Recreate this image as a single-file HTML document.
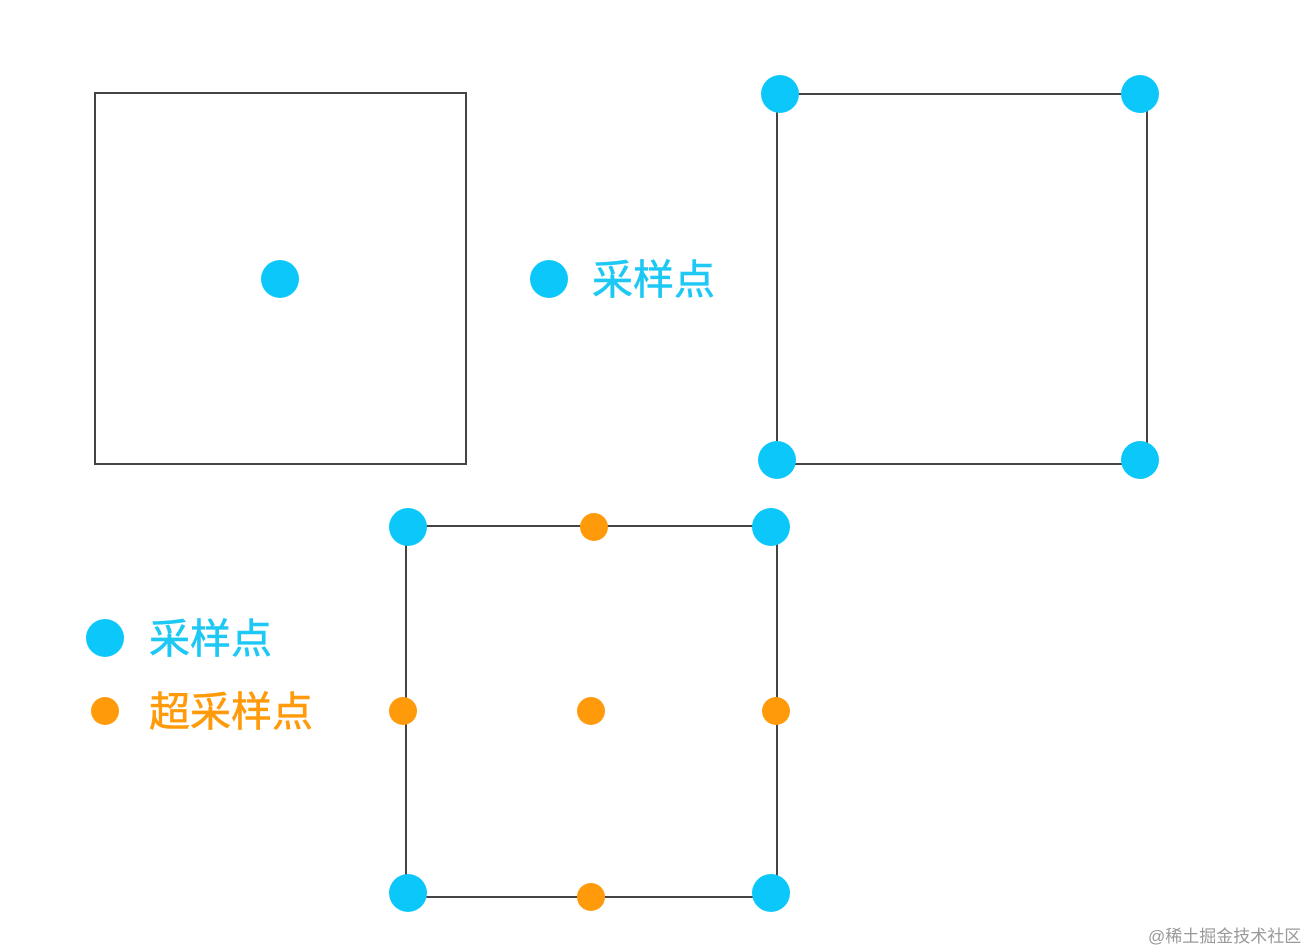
<!DOCTYPE html>
<html><head><meta charset="utf-8"><style>
html,body{margin:0;padding:0;background:#fff;}
</style></head><body>
<svg width="1315" height="952" xmlns="http://www.w3.org/2000/svg" style="display:block">
<g fill="none" stroke="#444" stroke-width="2">
<rect x="95" y="93" width="371" height="371"/>
<rect x="777" y="94" width="370" height="370"/>
<rect x="406" y="526" width="371" height="371"/>
</g>
<g fill="#0cc8fa">
<circle cx="280" cy="279" r="19"/>
<circle cx="549" cy="279" r="19"/>
<circle cx="780" cy="94" r="19"/>
<circle cx="1140" cy="94" r="19"/>
<circle cx="777" cy="460" r="19"/>
<circle cx="1140" cy="460" r="19"/>
<circle cx="408" cy="527" r="19"/>
<circle cx="771" cy="527" r="19"/>
<circle cx="408" cy="893" r="19"/>
<circle cx="771" cy="893" r="19"/>
<circle cx="105" cy="638" r="19"/>
</g>
<g fill="#ff9a0a">
<circle cx="594" cy="527" r="14"/>
<circle cx="403" cy="711" r="14"/>
<circle cx="591" cy="711" r="14"/>
<circle cx="776" cy="711" r="14"/>
<circle cx="591" cy="897" r="14"/>
<circle cx="105" cy="711" r="14"/>
</g>
<g font-family="'Liberation Sans','Noto Sans CJK SC',sans-serif" font-size="41" stroke-width="0.6">
<text x="592" y="294" fill="#1ec8f5" stroke="#1ec8f5">采样点</text>
<text x="149" y="653" fill="#1ec8f5" stroke="#1ec8f5">采样点</text>
<text x="149" y="726" fill="#ff9a0a" stroke="#ff9a0a">超采样点</text>
</g>
<text x="1148" y="942" font-family="'Liberation Sans','Noto Sans CJK SC',sans-serif" font-size="17" fill="#999">@稀土掘金技术社区</text>
</svg>
</body></html>
